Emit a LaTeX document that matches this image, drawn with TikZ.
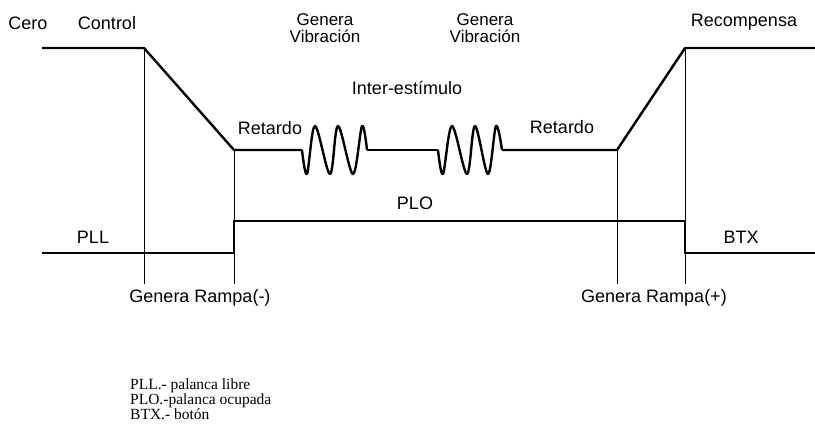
\documentclass[tikz,border=0pt]{standalone}
\usepackage{fontspec}
\setmainfont{Liberation Serif}
\newfontfamily\labfont{Liberation Sans}
\begin{document}
\begin{tikzpicture}[x=1pt,y=-1pt,
  sig/.style={line width=2.4pt,line join=round},
  lvl/.style={line width=1.8pt,line join=miter},
  guide/.style={line width=0.9pt},
  lab/.style={font=\labfont\fontsize{18}{18}\selectfont,inner sep=0pt,anchor=center},
  vlab/.style={font=\labfont\fontsize{17}{13.5}\selectfont,inner sep=0pt,anchor=base},
  leg/.style={font=\fontsize{15.5}{15}\selectfont,inner sep=0pt,anchor=base west}]
\useasboundingbox (0,0) rectangle (815,433);
% key points
\coordinate (t0) at (42,48);
\coordinate (t1) at (144,48);
\coordinate (t2) at (234,150);
\coordinate (w1a) at (302,150);
\coordinate (w1b) at (367,150);
\coordinate (w2a) at (438,150);
\coordinate (w2b) at (502,150);
\coordinate (t3) at (617,150);
\coordinate (t4) at (685,48);
\coordinate (t5) at (815,48);
% top signal
\draw[sig] (t0) -- (t1) -- (t2) -- (w1a);
\draw[sig] plot[smooth,tension=0.55] coordinates {(w1a) (307,174) (315,126) (330,174) (338,126) (353,174) (362,126) (w1b)};
\draw[sig] (w1b) -- (w2a);
\draw[sig] plot[smooth,tension=0.55] coordinates {(w2a) (443,174) (452,126) (467,174) (475,126) (488,174) (496,126) (w2b)};
\draw[sig] (w2b) -- (t3) -- (t4) -- (t5);
% guide lines
\coordinate (g1) at (144,284);
\coordinate (g2) at (234,284);
\coordinate (g3) at (617,284);
\coordinate (g4) at (685,284);
\draw[guide] (t1) -- (g1);
\draw[guide] (t2) -- (g2);
\draw[guide] (t3) -- (g3);
\draw[guide] (t4) -- (g4);
% lever levels
\coordinate (b0) at (42,253);
\coordinate (b1) at (234,253);
\coordinate (b2) at (234,221);
\coordinate (b3) at (685,221);
\coordinate (b4) at (685,253);
\coordinate (b5) at (815,253);
\draw[lvl] (b0) -- (b1) -- (b2) -- (b3) -- (b4) -- (b5);
% labels
\node[lab] (cero) at (28,23) {Cero};
\node[lab] (control) at (107,23) {Control};
\node[vlab] (gv1a) at (325,26) {Genera};
\node[vlab] (gv1b) at (325,43) {Vibración};
\node[vlab] (gv2a) at (485,26) {Genera};
\node[vlab] (gv2b) at (485,43) {Vibración};
\node[lab] (inter) at (407,88) {Inter-estímulo};
\node[lab] (ret1) at (270,128) {Retardo};
\node[lab] (ret2) at (562,127) {Retardo};
\node[lab] (rec) at (744,22) {Recompensa};
\node[lab] (plo) at (415,203) {PLO};
\node[lab] (pll) at (93,237) {PLL};
\node[lab] (btx) at (741,237) {BTX};
\node[lab] (grm) at (200,298) {Genera Rampa(-)};
\node[lab] (grp) at (654,298) {Genera Rampa(+)};
% legend
\node[leg] (l1) at (130,389) {PLL.- palanca libre};
\node[leg] (l2) at (130,404) {PLO.-palanca ocupada};
\node[leg] (l3) at (130,419) {BTX.- botón};
\end{tikzpicture}
\end{document}
